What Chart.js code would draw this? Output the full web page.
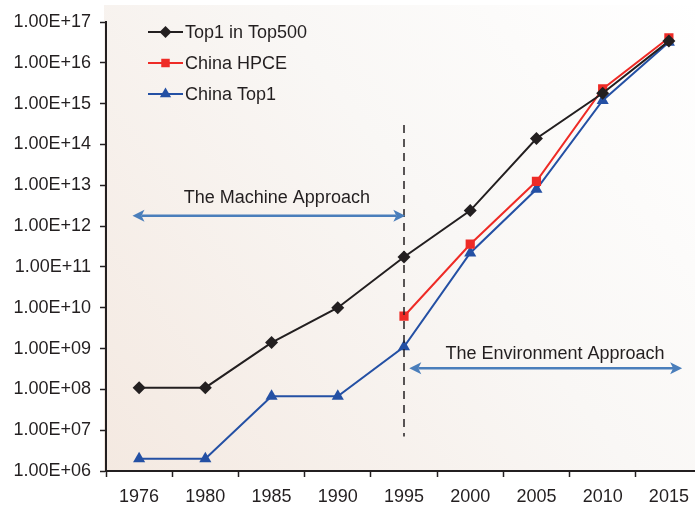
<!DOCTYPE html>
<html>
<head>
<meta charset="utf-8">
<script src="https://cdn.jsdelivr.net/npm/chart.js@4/dist/chart.umd.min.js"></script>
<style>
  html,body{margin:0;padding:0;background:#fff;overflow:hidden;}
  #wrap{width:709px;height:506px;}
</style>
</head>
<body>
<div id="wrap"><canvas id="perfChart" width="709" height="506"></canvas></div>
<script>
// categories and series (FLOPS)
const years = ['1976','1980','1985','1990','1995','2000','2005','2010','2015'];
const top500 = [1.1e8, 1.1e8, 1.4e9, 1.0e10, 1.75e11, 2.4e12, 1.4e14, 1.8e15, 3.4e16];
const chinaHpce = [null, null, null, null, 6.2e9, 3.6e11, 1.25e13, 2.3e15, 4.1e16];
const chinaTop1 = [2.0e6, 2.0e6, 6.8e7, 6.8e7, 1.1e9, 2.2e11, 8.0e12, 1.2e15, 3.2e16];
const yTicks = [1e6,1e7,1e8,1e9,1e10,1e11,1e12,1e13,1e14,1e15,1e16,1e17];

// annotations, in data space (x = category index, y = value)
const splitLine = {x: 4, yFrom: 3e14, yTo: 7e6};
const machine = {label: 'The Machine Approach', tx: 2.08, ty: 5e12, from: -0.1, to: 4.02, y: 1.8e12};
const environment = {label: 'The Environment Approach', tx: 6.28, ty: 7.4e8, from: 4.08, to: 8.2, y: 3.3e8};

const FONT = '"Liberation Sans", Arial, Helvetica, sans-serif';
const FSIZE = 18;
const INK = '#231f20';
const ARROW = '#4a7ebb';

const fmtSci = v => {
  const e = Math.round(Math.log10(v));
  return '1.00E' + (e < 0 ? '-' : '+') + String(Math.abs(e)).padStart(2,'0');
};

const backdrop = {
  id: 'backdrop',
  beforeDraw(chart){
    const {ctx, chartArea:a} = chart;
    const g = ctx.createLinearGradient(a.left, a.bottom, a.right, 5);
    g.addColorStop(0, '#f4e9e1');
    g.addColorStop(0.55, '#f9f7f5');
    g.addColorStop(1, '#ffffff');
    ctx.save();
    ctx.fillStyle = g;
    ctx.fillRect(a.left - 2, 5, chart.width - a.left + 2, a.bottom - 5);
    ctx.restore();
  }
};

function arrowHead(ctx, x, y, dir){
  ctx.beginPath();
  ctx.moveTo(x, y);
  ctx.lineTo(x - dir*12, y - 6);
  ctx.lineTo(x - dir*9, y);
  ctx.lineTo(x - dir*12, y + 6);
  ctx.closePath();
  ctx.fill();
}

function drawArrow(ctx, x1, x2, y){
  ctx.save();
  ctx.strokeStyle = ARROW;
  ctx.fillStyle = ARROW;
  ctx.lineWidth = 2.5;
  ctx.beginPath();
  ctx.moveTo(x1 + 9, y);
  ctx.lineTo(x2 - 9, y);
  ctx.stroke();
  arrowHead(ctx, x1, y, -1);
  arrowHead(ctx, x2, y, 1);
  ctx.restore();
}

const notes = {
  id: 'notes',
  afterDatasetsDraw(chart){
    const {ctx, scales:{x, y}} = chart;
    ctx.save();
    // dashed split line
    ctx.strokeStyle = INK;
    ctx.lineWidth = 1.5;
    ctx.setLineDash([8,6]);
    ctx.beginPath();
    const sx = x.getPixelForValue(splitLine.x);
    ctx.moveTo(sx, y.getPixelForValue(splitLine.yFrom));
    ctx.lineTo(sx, y.getPixelForValue(splitLine.yTo));
    ctx.stroke();
    ctx.setLineDash([]);
    // labels + arrows
    ctx.fillStyle = INK;
    ctx.font = FSIZE + 'px ' + FONT;
    ctx.textAlign = 'center';
    ctx.textBaseline = 'middle';
    [machine, environment].forEach(n => {
      ctx.fillText(n.label, x.getPixelForValue(n.tx), y.getPixelForValue(n.ty));
      drawArrow(ctx, x.getPixelForValue(n.from), x.getPixelForValue(n.to), y.getPixelForValue(n.y));
    });
    ctx.restore();
  },
  afterDraw(chart){
    // legend: line with marker
    const {ctx} = chart;
    ctx.save();
    chart.data.datasets.forEach((ds, i) => {
      const ly = 32 + i*31;
      ctx.strokeStyle = ds.borderColor;
      ctx.lineWidth = 2;
      ctx.beginPath();
      ctx.moveTo(148, ly);
      ctx.lineTo(183, ly);
      ctx.stroke();
      ctx.fillStyle = ds.pointBackgroundColor;
      Chart.helpers.drawPoint(ctx, {pointStyle: ds.pointStyle, radius: ds.pointRadius - 0.5, borderWidth: 0}, 165.5, ly);
      ctx.fillStyle = INK;
      ctx.font = FSIZE + 'px ' + FONT;
      ctx.textAlign = 'left';
      ctx.textBaseline = 'middle';
      ctx.fillText(ds.label, 185, ly + 1);
    });
    ctx.restore();
  }
};

new Chart(document.getElementById('perfChart'), {
  type: 'line',
  data: {
    labels: years,
    datasets: [
      {label: 'Top1 in Top500', data: top500, borderColor: INK, backgroundColor: INK,
       pointBackgroundColor: INK, pointBorderWidth: 0, pointStyle: 'rectRot', pointRadius: 6.5, borderWidth: 2},
      {label: 'China HPCE', data: chinaHpce, borderColor: '#ee2b26', backgroundColor: '#ee2b26',
       pointBackgroundColor: '#ee2b26', pointBorderWidth: 0, pointStyle: 'rect', pointRadius: 6.5, borderWidth: 2},
      {label: 'China Top1', data: chinaTop1, borderColor: '#2450a4', backgroundColor: '#2450a4',
       pointBackgroundColor: '#2450a4', pointBorderWidth: 0, pointStyle: 'triangle', pointRadius: 7, borderWidth: 2}
    ]
  },
  options: {
    responsive: false,
    animation: false,
    layout: {padding: {top: 22, right: 0, left: 0, bottom: 0}},
    plugins: {legend: {display: false}, tooltip: {enabled: false}},
    elements: {line: {tension: 0}},
    scales: {
      x: {
        type: 'category',
        offset: true,
        grid: {offset: true, drawOnChartArea: false, color: INK, tickLength: 6, tickWidth: 1.5},
        border: {color: INK, width: 2},
        ticks: {color: INK, font: {family: FONT, size: FSIZE}, padding: 9, maxRotation: 0},
        afterFit: s => { s.height = 35; }
      },
      y: {
        type: 'logarithmic',
        min: 1e6,
        max: 1e17,
        afterBuildTicks: s => { s.ticks = yTicks.map(v => ({value: v})); },
        grid: {drawOnChartArea: false, color: INK, tickLength: 6, tickWidth: 1.5},
        border: {color: INK, width: 2},
        ticks: {color: INK, font: {family: FONT, size: FSIZE}, padding: 9, callback: v => fmtSci(v), autoSkip: false},
        afterFit: s => { s.width = 106; }
      }
    }
  },
  plugins: [backdrop, notes]
});
</script>
</body>
</html>
